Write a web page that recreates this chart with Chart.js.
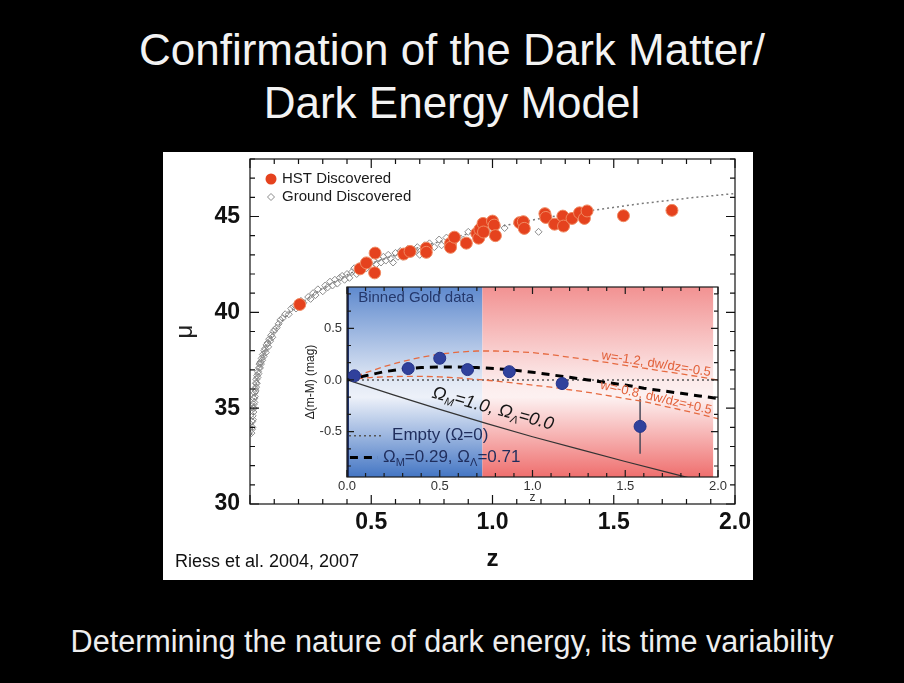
<!DOCTYPE html>
<html>
<head>
<meta charset="utf-8">
<script src="https://cdn.jsdelivr.net/npm/chart.js@4.4.1/dist/chart.umd.min.js"></script>
<style>
  html, body { margin: 0; padding: 0; background: #000; }
  body { width: 904px; height: 683px; position: relative; overflow: hidden;
         font-family: 'Liberation Sans', Arial, sans-serif; }
  .title { position: absolute; left: 0; width: 904px; text-align: center;
           color: #f3f3f3; font-size: 44px; line-height: 50px; white-space: nowrap; }
  #panel { position: absolute; left: 163px; top: 152px; width: 590px; height: 428px; background: #fff; }
  #mainChart { position: absolute; left: 0; top: 0; }
  #insetChart { position: absolute; left: 132px; top: 128px; }
  #credit { position: absolute; left: 12px; top: 399px; font-size: 18px; color: #111; }
  .caption { position: absolute; left: 0; top: 622px; width: 904px; text-align: center;
             color: #eeeeee; font-size: 30.6px; line-height: 38px; white-space: nowrap; }
</style>
</head>
<body>
<div class="title" style="top:25px">Confirmation of the Dark Matter/</div>
<div class="title" style="top:78px">Dark Energy Model</div>

<div id="panel">
  <canvas id="mainChart" width="590" height="428"></canvas>
  <canvas id="insetChart" width="440" height="225"></canvas>
  <div id="credit">Riess et al. 2004, 2007</div>
</div>

<div class="caption">Determining the nature of dark energy, its time variability</div>

<script>
// ---- main Hubble diagram: distance modulus vs redshift ----
const hstZ = [0.205, 0.454, 0.48, 0.514, 0.516, 0.634, 0.66, 0.727, 0.727, 0.827, 0.827, 0.843,
              0.892, 0.935, 0.943, 0.948, 0.961, 0.963, 1.0, 1.007, 1.012, 1.112, 1.127, 1.131,
              1.216, 1.22, 1.256, 1.29, 1.293, 1.328, 1.359, 1.379, 1.39, 1.54, 1.74];
const hstMu = [40.41, 42.27, 42.58, 42.06, 43.09, 43.04, 43.18, 43.35, 43.13, 43.61, 43.39, 43.92,
               43.61, 44.12, 43.87, 44.33, 44.64, 44.19, 44.76, 44.55, 44.0, 44.68, 44.73, 44.38,
               45.15, 44.95, 44.6, 45.02, 44.5, 44.9, 45.19, 44.9, 45.29, 45.04, 45.32];

const groundZ = [
  0.006, 0.008, 0.009, 0.010, 0.011, 0.012, 0.013, 0.014, 0.015, 0.016,
  0.017, 0.018, 0.019, 0.020, 0.021, 0.023, 0.024, 0.025, 0.026, 0.028,
  0.029, 0.031, 0.033, 0.035, 0.037, 0.039, 0.041, 0.043, 0.045, 0.048,
  0.050, 0.053, 0.056, 0.059, 0.062, 0.065, 0.068, 0.072, 0.075, 0.079,
  0.083, 0.087, 0.092, 0.097, 0.102, 0.110, 0.118, 0.125,
  0.135, 0.145, 0.160, 0.170, 0.180, 0.190, 0.210, 0.220, 0.240, 0.250, 0.260, 0.270, 0.280, 0.300,
  0.31, 0.32, 0.33, 0.34, 0.35, 0.36, 0.37, 0.38, 0.39, 0.40, 0.41, 0.42, 0.43,
  0.44, 0.45, 0.46, 0.47, 0.48, 0.49, 0.50, 0.51, 0.52, 0.53, 0.54, 0.55,
  0.56, 0.57, 0.58, 0.59, 0.60, 0.61, 0.62, 0.63, 0.64, 0.65, 0.66, 0.68, 0.69, 0.70,
  0.72, 0.73, 0.74, 0.76, 0.78, 0.79, 0.81, 0.83, 0.85, 0.88, 0.90, 0.94, 0.98, 1.05, 1.19];
const groundMu = [
  33.7, 33.9, 34.3, 34.0, 34.6, 34.4, 35.0, 34.8, 35.2, 35.0,
  35.5, 35.3, 35.8, 35.6, 36.0, 35.9, 36.3, 36.1, 36.5, 36.3,
  36.7, 36.6, 36.9, 36.8, 37.1, 37.3, 37.1, 37.4, 37.3, 37.6,
  37.5, 37.8, 37.7, 38.0, 38.1, 37.9, 38.3, 38.4, 38.2, 38.6,
  38.5, 38.8, 38.7, 39.0, 39.1, 39.2, 39.4, 39.6,
  39.7, 39.9, 39.9, 40.2, 40.3, 40.2, 40.6, 40.5, 40.8, 40.7, 41.0, 40.9, 41.2, 41.1,
  41.4, 41.3, 41.6, 41.4, 41.7, 41.5, 41.8, 41.9, 41.7, 42.0, 41.8, 42.1, 42.3,
  42.0, 42.4, 42.2, 42.5, 42.3, 42.6, 42.4, 42.7, 42.5, 42.8, 42.6, 42.9,
  42.7, 43.0, 42.8, 42.6, 43.1, 42.9, 43.2, 42.9, 43.0, 43.3, 43.1, 43.2, 43.4, 43.0,
  43.5, 43.3, 43.6, 43.4, 43.8, 43.5, 43.9, 43.7, 44.0, 43.8, 44.2, 44.3, 44.2, 44.4, 44.2];

// dotted best-fit curve
const fitZ  = [0.006, 0.01, 0.015, 0.02, 0.03, 0.04, 0.05, 0.07, 0.1, 0.15, 0.2, 0.3, 0.4, 0.5,
               0.6, 0.7, 0.8, 0.9, 1.0, 1.2, 1.4, 1.6, 1.8, 2.0];
const fitMu = [33.6, 34.0, 35.0, 35.7, 36.6, 37.2, 37.6, 38.3, 39.0, 39.85, 40.4, 41.25, 41.95, 42.55,
               43.0, 43.4, 43.75, 44.1, 44.4, 44.9, 45.3, 45.65, 45.95, 46.2];

const mainLabels = ['HST Discovered', 'Ground Discovered'];

// ---- inset: residuals relative to an empty universe ----
const binZ     = [0.04, 0.33, 0.50, 0.65, 0.875, 1.16, 1.58];
const binDelta = [0.04, 0.11, 0.21, 0.10, 0.08, -0.035, -0.45];
const binErr   = [0.03, 0.04, 0.05, 0.04, 0.04, 0.06, 0.265];

const modelZ     = [0, 0.1, 0.2, 0.3, 0.4, 0.5, 0.6, 0.7, 0.8, 0.9, 1.0,
                    1.1, 1.2, 1.3, 1.4, 1.5, 1.6, 1.7, 1.8, 1.9, 2.0];
const lcdmDelta  = [0, 0.04, 0.08, 0.105, 0.12, 0.125, 0.125, 0.12, 0.11, 0.095, 0.075,
                    0.05, 0.025, 0, -0.025, -0.05, -0.08, -0.105, -0.13, -0.155, -0.18];
const upperDelta = [0, 0.07, 0.13, 0.18, 0.22, 0.25, 0.27, 0.28, 0.28, 0.275, 0.265,
                    0.245, 0.22, 0.195, 0.17, 0.14, 0.115, 0.085, 0.06, 0.03, 0.0];
const lowerDelta = [0, 0.02, 0.03, 0.035, 0.035, 0.03, 0.02, 0.005, -0.01, -0.03, -0.05,
                    -0.07, -0.095, -0.12, -0.15, -0.18, -0.21, -0.25, -0.29, -0.33, -0.375];
const om1Z       = [0, 0.25, 0.5, 0.75, 1.0, 1.25, 1.5, 1.75, 2.0];
const om1Delta   = [0, -0.145, -0.285, -0.42, -0.55, -0.67, -0.79, -0.905, -1.02];
const emptyZ     = [0, 2.0];
const emptyDelta = [0, 0];

// acceleration (blue) / deceleration (red) zones of the inset
const zoneSplit = 0.73;
const zoneEnd = 1.975;

const FONT = "'Liberation Sans', Arial, sans-serif";
Chart.defaults.font.family = FONT;

const pts = (xs, ys) => xs.map((x, i) => ({ x: x, y: ys[i] }));

// frame + inward tick marks on all four sides (IDL style)
const frameTicks = {
  id: 'frameTicks',
  afterDraw(chart, args, o) {
    const { ctx, chartArea: a } = chart;
    const xs = chart.scales.x, ys = chart.scales.y;
    const steps = (min, max, step) => {
      const out = [];
      for (let i = Math.ceil(min / step - 1e-6); i * step <= max + 1e-6; i++) out.push(i * step);
      return out;
    };
    const isMajor = (v, m) => Math.abs(v / m - Math.round(v / m)) < 1e-6;
    ctx.save();
    ctx.strokeStyle = o.color;
    ctx.lineWidth = o.lineWidth;
    ctx.strokeRect(a.left, a.top, a.right - a.left, a.bottom - a.top);
    ctx.beginPath();
    steps(xs.min, xs.max, o.xMinor).forEach(v => {
      const len = isMajor(v, o.xMajor) ? o.majorLen : o.minorLen;
      const px = xs.getPixelForValue(v);
      ctx.moveTo(px, a.bottom); ctx.lineTo(px, a.bottom - len);
      ctx.moveTo(px, a.top); ctx.lineTo(px, a.top + len);
    });
    steps(ys.min, ys.max, o.yMinor).forEach(v => {
      const len = isMajor(v, o.yMajor) ? o.majorLen : o.minorLen;
      const py = ys.getPixelForValue(v);
      ctx.moveTo(a.left, py); ctx.lineTo(a.left + len, py);
      ctx.moveTo(a.right, py); ctx.lineTo(a.right - len, py);
    });
    ctx.stroke();
    ctx.restore();
  }
};

// legend in the top-left corner of the main plot
const cornerLegend = {
  id: 'cornerLegend',
  afterDraw(chart) {
    const { ctx, chartArea: a } = chart;
    const x0 = a.left + 21, y0 = a.top + 20;
    ctx.save();
    ctx.font = '15px ' + FONT;
    ctx.textBaseline = 'middle';
    // HST: filled red circle
    ctx.beginPath();
    ctx.arc(x0, y0, 5.5, 0, Math.PI * 2);
    ctx.fillStyle = '#e5421e';
    ctx.fill();
    ctx.fillStyle = '#1a1a1a';
    ctx.fillText(mainLabels[0], x0 + 11, y0);
    // ground: open diamond
    const y1 = y0 + 18;
    ctx.beginPath();
    ctx.moveTo(x0, y1 - 3.5); ctx.lineTo(x0 + 3.5, y1); ctx.lineTo(x0, y1 + 3.5); ctx.lineTo(x0 - 3.5, y1);
    ctx.closePath();
    ctx.strokeStyle = '#8a8a8a';
    ctx.lineWidth = 1;
    ctx.stroke();
    ctx.fillText(mainLabels[1], x0 + 11, y1);
    ctx.restore();
  }
};

new Chart(document.getElementById('mainChart'), {
  type: 'scatter',
  data: {
    datasets: [
      {
        label: mainLabels[0],
        data: pts(hstZ, hstMu),
        pointStyle: 'circle',
        pointRadius: 6,
        backgroundColor: '#e5421e',
        borderColor: '#f08a62',
        borderWidth: 1
      },
      {
        label: mainLabels[1],
        data: pts(groundZ, groundMu),
        pointStyle: 'rectRot',
        pointRadius: 3.5,
        backgroundColor: 'rgba(255,255,255,0)',
        borderColor: '#8c8c8c',
        borderWidth: 1
      },
      {
        label: 'fit',
        data: pts(fitZ, fitMu),
        showLine: true,
        pointRadius: 0,
        borderColor: '#7a7a7a',
        borderWidth: 1.5,
        borderDash: [2, 3]
      }
    ]
  },
  options: {
    responsive: false,
    animation: false,
    events: [],
    layout: { padding: { top: 3, right: 18, left: 0, bottom: 0 } },
    scales: {
      x: {
        type: 'linear',
        min: 0, max: 2.0,
        grid: { display: false, drawTicks: false },
        border: { display: false },
        ticks: {
          stepSize: 0.5,
          padding: 5,
          color: '#111',
          font: { size: 23, weight: 'bold' },
          maxRotation: 0,
          callback: v => (v === 0 ? '' : v.toFixed(1))
        },
        title: { display: true, text: 'z', color: '#111',
                 font: { size: 24, weight: 'bold' }, padding: { top: 0, bottom: 6 } },
        afterFit(s) { s.height = 76; s.paddingLeft = 0; s.paddingRight = 0; }
      },
      y: {
        min: 30, max: 48,
        grid: { display: false, drawTicks: false },
        border: { display: false },
        ticks: {
          stepSize: 5,
          padding: 10,
          color: '#111',
          font: { size: 23, weight: 'bold' },
          callback: v => (v % 5 === 0 ? String(v) : '')
        },
        title: { display: true, text: 'μ', color: '#222',
                 font: { size: 24 }, padding: { top: 8, bottom: 0 } },
        afterFit(s) { s.width = 87; s.paddingTop = 0; s.paddingBottom = 0; }
      }
    },
    plugins: {
      legend: { display: false },
      tooltip: { enabled: false },
      frameTicks: { color: '#111', lineWidth: 1.2, xMinor: 0.1, xMajor: 0.5,
                    yMinor: 1, yMajor: 5, majorLen: 9, minorLen: 5 }
    }
  },
  plugins: [frameTicks, cornerLegend]
});

// ---- inset helpers ----
function drawRich(ctx, parts, x, y, size, style, align) {
  const fontFor = sub => `${style} ${sub ? Math.round(size * 0.62) : size}px ${FONT}`;
  let w = 0;
  parts.forEach(([t, sub]) => { ctx.font = fontFor(sub); w += ctx.measureText(t).width; });
  let cx = align === 'center' ? x - w / 2 : x;
  ctx.textAlign = 'left';
  ctx.textBaseline = 'middle';
  parts.forEach(([t, sub]) => {
    ctx.font = fontFor(sub);
    ctx.fillText(t, cx, y + (sub ? size * 0.3 : 0));
    cx += ctx.measureText(t).width;
  });
}

const zoneShading = {
  id: 'zoneShading',
  beforeDraw(chart) {
    const { ctx, chartArea: a, scales: { x } } = chart;
    const xl = x.getPixelForValue(0), xm = x.getPixelForValue(zoneSplit), xr = x.getPixelForValue(zoneEnd);
    const blue = ctx.createLinearGradient(0, a.top, 0, a.bottom);
    blue.addColorStop(0, '#5f8ace');
    blue.addColorStop(0.5, '#e2e9f5');
    blue.addColorStop(0.58, '#edf1f9');
    blue.addColorStop(1, '#4476c4');
    const red = ctx.createLinearGradient(0, a.top, 0, a.bottom);
    red.addColorStop(0, '#f29292');
    red.addColorStop(0.5, '#fcebeb');
    red.addColorStop(0.58, '#fdf1f1');
    red.addColorStop(1, '#ef6f6e');
    ctx.save();
    ctx.fillStyle = blue;
    ctx.fillRect(xl, a.top, xm - xl, a.bottom - a.top);
    ctx.fillStyle = red;
    ctx.fillRect(xm, a.top, xr - xm, a.bottom - a.top);
    ctx.fillStyle = '#ffffff';
    ctx.fillRect(xr, a.top, a.right - xr, a.bottom - a.top);
    ctx.strokeStyle = '#1d2f66';
    ctx.lineWidth = 2;
    ctx.beginPath();
    ctx.moveTo(xl + 1, a.top); ctx.lineTo(xl + 1, a.bottom);
    ctx.stroke();
    ctx.restore();
  }
};

const errorBars = {
  id: 'errorBars',
  beforeDatasetsDraw(chart) {
    const { ctx, scales: { x, y } } = chart;
    ctx.save();
    ctx.strokeStyle = '#4a4a5a';
    ctx.lineWidth = 1.5;
    ctx.beginPath();
    binZ.forEach((z, i) => {
      const px = x.getPixelForValue(z);
      ctx.moveTo(px, y.getPixelForValue(binDelta[i] + binErr[i]));
      ctx.lineTo(px, y.getPixelForValue(binDelta[i] - binErr[i]));
    });
    ctx.stroke();
    ctx.restore();
  }
};

const insetText = {
  id: 'insetText',
  afterDraw(chart) {
    const { ctx, scales: { x, y } } = chart;
    const at = (z, d) => [x.getPixelForValue(z), y.getPixelForValue(d)];
    const rotated = (z, d, deg, fn) => {
      const [px, py] = at(z, d);
      ctx.save();
      ctx.translate(px, py);
      ctx.rotate(deg * Math.PI / 180);
      fn();
      ctx.restore();
    };
    ctx.save();
    // panel title
    ctx.fillStyle = '#24386c';
    let [px, py] = at(0.06, 0.79);
    drawRich(ctx, [['Binned Gold data', 0]], px, py, 15, 'normal', 'left');

    // model labels along the curves
    ctx.fillStyle = '#e2613a';
    rotated(1.666, 0.154, 9, () => drawRich(ctx, [['w=-1.2, dw/dz=-0.5', 0]], 0, 0, 13, 'normal', 'center'));
    rotated(1.666, -0.173, 13, () => drawRich(ctx, [['w=-0.8, dw/dz=+0.5', 0]], 0, 0, 13, 'normal', 'center'));
    ctx.fillStyle = '#151515';
    rotated(0.787, -0.279, 15, () => drawRich(ctx,
      [['Ω', 0], ['M', 1], ['=1.0, Ω', 0], ['Λ', 1], ['=0.0', 0]], 0, 0, 18, 'italic', 'center'));

    // legend at the bottom left
    ctx.strokeStyle = '#555';
    ctx.lineWidth = 1.5;
    ctx.setLineDash([2, 3]);
    let [ax, ay] = at(0.0, -0.54);
    let [bx] = at(0.195, -0.54);
    ctx.beginPath(); ctx.moveTo(ax + 2, ay); ctx.lineTo(bx, ay); ctx.stroke();
    ctx.fillStyle = '#1f2d5c';
    [px, py] = at(0.243, -0.54);
    drawRich(ctx, [['Empty (Ω=0)', 0]], px, py, 17, 'normal', 'left');

    ctx.strokeStyle = '#000';
    ctx.lineWidth = 3;
    ctx.setLineDash([8, 6]);
    [ax, ay] = at(0.005, -0.75);
    [bx] = at(0.167, -0.75);
    ctx.beginPath(); ctx.moveTo(ax + 2, ay); ctx.lineTo(bx, ay); ctx.stroke();
    ctx.setLineDash([]);
    [px, py] = at(0.194, -0.75);
    drawRich(ctx, [['Ω', 0], ['M', 1], ['=0.29, Ω', 0], ['Λ', 1], ['=0.71', 0]], px, py, 17, 'normal', 'left');
    ctx.restore();
  }
};

new Chart(document.getElementById('insetChart'), {
  type: 'scatter',
  data: {
    datasets: [
      {
        label: 'Binned Gold data',
        data: pts(binZ, binDelta),
        pointRadius: 6,
        backgroundColor: '#30419c',
        borderColor: '#25348a',
        borderWidth: 1
      },
      {
        label: 'LCDM',
        data: pts(modelZ, lcdmDelta),
        showLine: true, pointRadius: 0,
        borderColor: '#000', borderWidth: 3, borderDash: [8, 6]
      },
      {
        label: 'w=-1.2',
        data: pts(modelZ, upperDelta),
        showLine: true, pointRadius: 0,
        borderColor: '#e66a40', borderWidth: 1.3, borderDash: [6, 4]
      },
      {
        label: 'w=-0.8',
        data: pts(modelZ, lowerDelta),
        showLine: true, pointRadius: 0,
        borderColor: '#e66a40', borderWidth: 1.3, borderDash: [6, 4]
      },
      {
        label: 'empty',
        data: pts(emptyZ, emptyDelta),
        showLine: true, pointRadius: 0,
        borderColor: '#555', borderWidth: 1.5, borderDash: [2, 3]
      },
      {
        label: 'OmegaM=1',
        data: pts(om1Z, om1Delta),
        showLine: true, pointRadius: 0,
        borderColor: '#333', borderWidth: 1.2
      }
    ]
  },
  options: {
    responsive: false,
    animation: false,
    events: [],
    layout: { padding: { top: 5, right: 17, left: 0, bottom: 0 } },
    scales: {
      x: {
        type: 'linear',
        min: 0, max: 2.0,
        grid: { display: false, drawTicks: false },
        border: { display: false },
        ticks: { stepSize: 0.5, padding: 2, color: '#333', maxRotation: 0,
                 font: { size: 13 }, callback: v => v.toFixed(1) },
        title: { display: true, text: 'z', color: '#333', font: { size: 12 },
                 padding: { top: 0, bottom: 0 } },
        afterFit(s) { s.height = 28; s.paddingLeft = 0; s.paddingRight = 0; }
      },
      y: {
        min: -0.94, max: 0.9,
        grid: { display: false, drawTicks: false },
        border: { display: false },
        ticks: { stepSize: 0.5, padding: 5, color: '#333', font: { size: 13 },
                 callback: v => (Math.abs(v * 2 - Math.round(v * 2)) < 1e-6 ? v.toFixed(1) : '') },
        title: { display: true, text: 'Δ(m-M) (mag)', color: '#222', font: { size: 12 },
                 padding: { top: 8, bottom: 0 } },
        afterFit(s) { s.width = 52; s.paddingTop = 0; s.paddingBottom = 0; }
      }
    },
    plugins: {
      legend: { display: false },
      tooltip: { enabled: false },
      frameTicks: { color: '#1a1a1a', lineWidth: 1.2, xMinor: 0.1, xMajor: 0.5,
                    yMinor: 0.5 / 3, yMajor: 0.5, majorLen: 7, minorLen: 4 }
    }
  },
  plugins: [zoneShading, errorBars, frameTicks, insetText]
});
</script>
</body>
</html>
